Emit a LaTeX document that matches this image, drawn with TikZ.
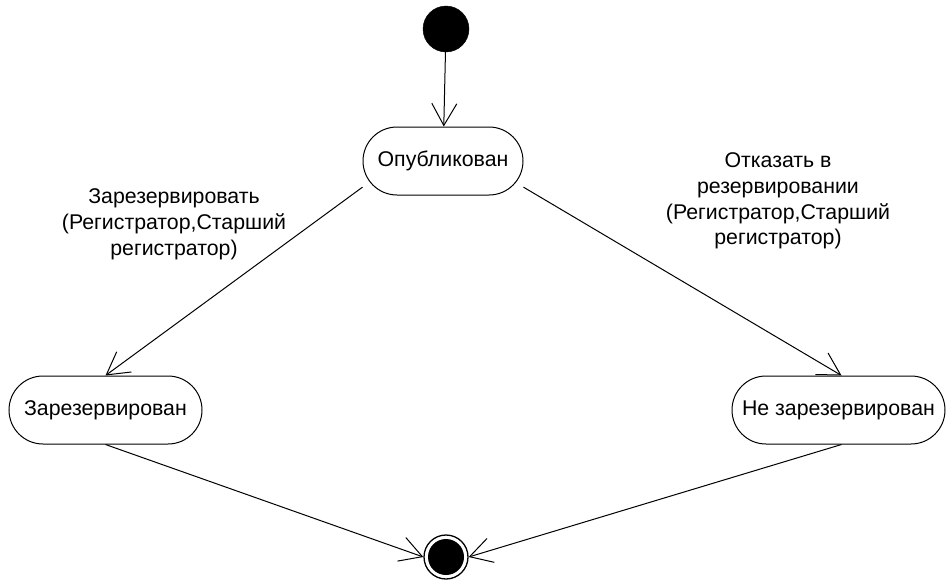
\documentclass[tikz,border=0pt]{standalone}
\usepackage{fontspec}
\setmainfont{Liberation Sans}
\usetikzlibrary{arrows.meta}
\begin{document}
\begin{tikzpicture}[x=1pt,y=-1pt,
  every node/.style={font=\fontsize{21.3}{25.8}\selectfont},
  state/.style={draw, line width=1pt, rectangle, rounded corners=34pt, minimum height=68pt, inner sep=0pt},
  trans/.style={draw, line width=1pt, -{Straight Barb[length=22pt,width=25pt,line width=1pt]}},
  lbl/.style={align=center, inner sep=0pt}]
\useasboundingbox (0,0) rectangle (946,582);
\node[circle, fill=black, draw, minimum size=46pt, inner sep=0pt] (start) at (446,29) {};
\node[state, minimum width=160pt] (pub) at (443,161) {Опубликован};
\node[state, minimum width=193pt] (res) at (105.5,410) {Зарезервирован};
\node[state, minimum width=213pt] (nores) at (838.5,410) {Не зарезервирован};
\node[circle, draw, line width=1.3pt, minimum size=44pt, inner sep=0pt] (end) at (446,557) {};
\node[circle, fill=black, minimum size=36pt, inner sep=0pt] (endin) at (446,557) {};
\draw[trans] (start) -- (pub);
\draw[trans] (pub.198) -- (res.north);
\draw[trans] (pub.342) -- ([xshift=3pt]nores.north);
\draw[trans] (res.south) -- (end.west);
\draw[trans] ([xshift=3pt]nores.south) -- (end.east);
\node[lbl] (l1) at (174,224) {Зарезервировать\\(Регистратор,Старший\\регистратор)};
\node[lbl] (l2) at (778,201) {Отказать в\\резервировании\\(Регистратор,Старший\\регистратор)};
\end{tikzpicture}
\end{document}
